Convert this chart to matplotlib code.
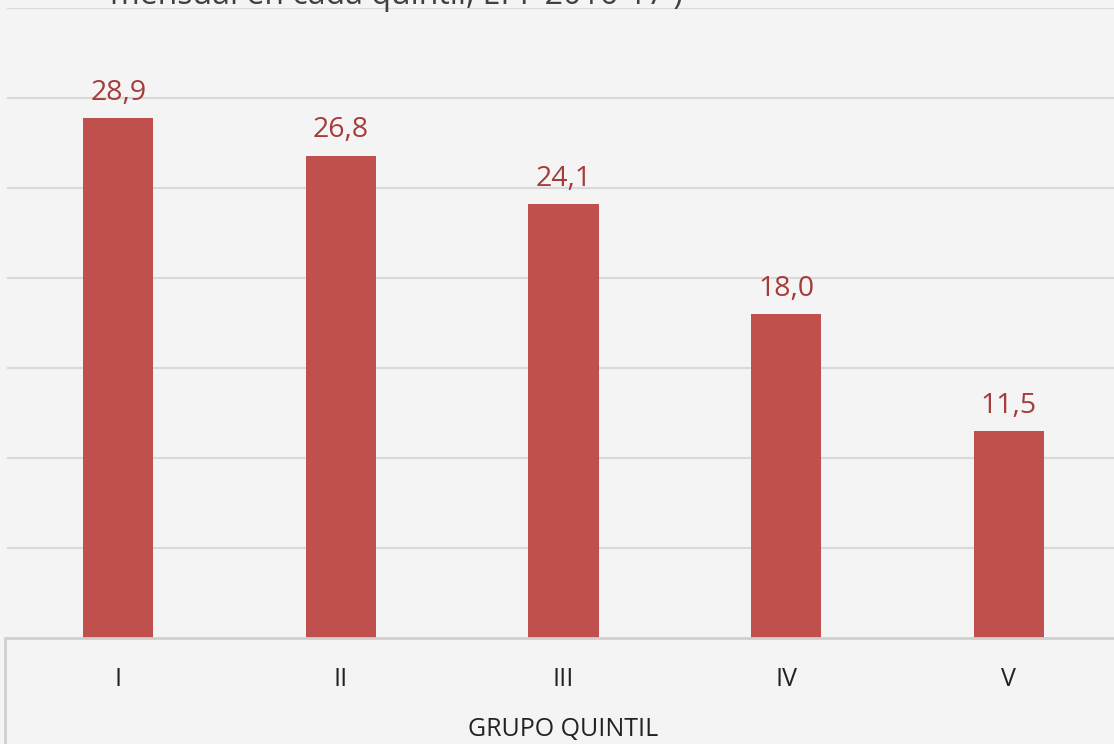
import numpy as np, matplotlib
matplotlib.use("Agg")
import matplotlib.pyplot as plt
from matplotlib.lines import Line2D

plt.rcParams.update({"font.family": ["Open Sans", "DejaVu Sans"]})

QUINTIL = ["I", "II", "III", "IV", "V"]
VALORES = [28.9, 26.8, 24.1, 18.0, 11.5]
ETIQUETAS = ["28,9", "26,8", "24,1", "18,0", "11,5"]
TITULO = "mensual en cada quintil, EPF 2016-17 )"

W, H = 1114, 744
BG = "#f4f4f4"; BAR = "#c0504d"; LAB = "#a53c3a"; GRID = "#d9d9d9"

fig = plt.figure(figsize=(W/100, H/100), dpi=100, facecolor=BG)
# axes: left edge ~7px, baseline at 638px, 35 at 8px, slot width ~222.6px
x0, x1 = 7, 7 + 5*222.6
ax = fig.add_axes([x0/W, (H-638)/H, (x1-x0)/W, (638-8)/H], facecolor="none")
x = np.arange(len(QUINTIL))
bars = ax.bar(x, VALORES, width=0.315, color=BAR, zorder=3)
ax.set_xlim(-0.5, len(QUINTIL)-0.5); ax.set_ylim(0, 35)
ax.set_yticks(np.arange(5, 36, 5)); ax.set_yticklabels([])
ax.grid(axis="y", color=GRID, linewidth=1.6, zorder=0)
ax.tick_params(axis="y", length=0)
for s in ax.spines.values(): s.set_visible(False)
ax.set_xticks(x, QUINTIL, fontsize=18, color="#222222")
ax.tick_params(axis="x", length=0, pad=21)
for b, t in zip(bars, ETIQUETAS):
    ax.annotate(t, (b.get_x()+b.get_width()/2, b.get_height()), xytext=(0, 8), textcoords="offset points",
                ha="center", va="bottom", fontsize=20.5, color=LAB)
ax.axhline(0, color="#d0d0d0", linewidth=2, zorder=4, clip_on=False)
fig.add_artist(Line2D([5/W, 5/W], [0, (H-638)/H], color="#d0d0d0", linewidth=2))
fig.text(563/W, 2/H, "GRUPO QUINTIL", ha="center", va="bottom", fontsize=18, color="#222222")
fig.text(110/W, 1-4/H, TITULO, ha="left", va="baseline", fontsize=23, color="#404040")

fig.savefig("out.png", dpi=100, facecolor=BG)
